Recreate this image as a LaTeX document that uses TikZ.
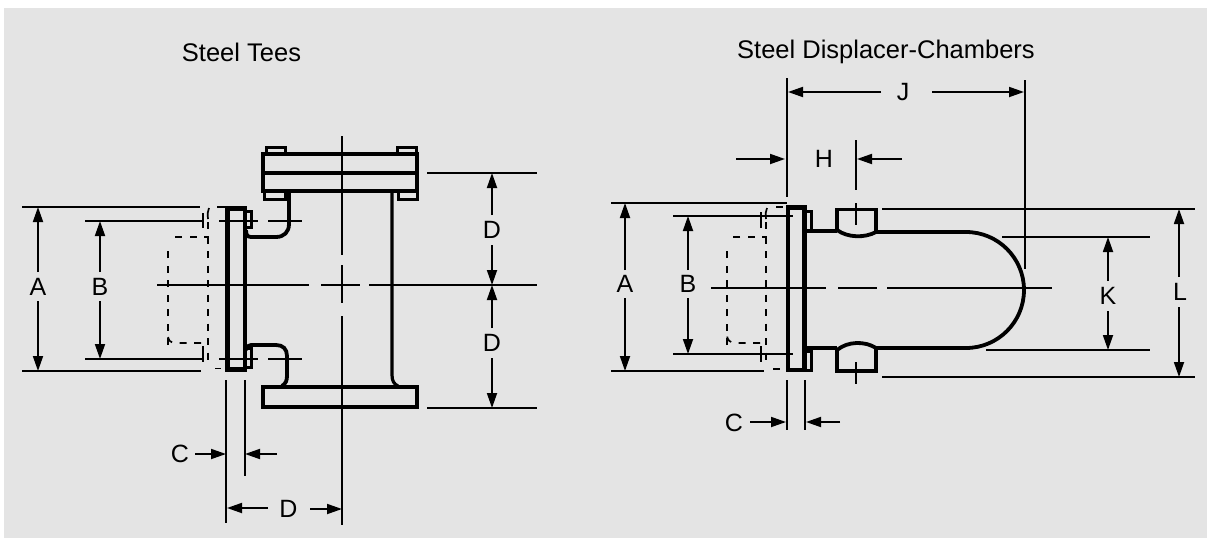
\documentclass[tikz,border=0pt]{standalone}
\usepackage{fontspec}
\setmainfont{Liberation Sans}
\usetikzlibrary{arrows.meta}
\definecolor{bggrey}{HTML}{E4E4E4}
\tikzset{
  thick line/.style={line width=4.2pt,line join=miter,black},
  pipe line/.style={line width=3.8pt,black},
  bolt line/.style={line width=3pt,black},
  thin line/.style={line width=1.8pt,black},
  dim/.style={line width=1.8pt,black,-{Triangle[length=15pt,width=10pt]}},
  ghost/.style={line width=1.7pt,black,dash pattern=on 7pt off 7.5pt},
  lbl/.style={font=\fontsize{25}{28}\selectfont,inner sep=0pt,text=black},
  title/.style={font=\fontsize{25.5}{28}\selectfont,inner sep=0pt,text=black}
}
\begin{document}
\begin{tikzpicture}[x=1pt,y=-1pt]
\useasboundingbox (0,0) rectangle (1207,538);
\fill[white] (0,0) rectangle (1207,538);
\fill[bggrey] (4,8) rectangle (1207,538);

% titles
\node[title] (t1) at (241.5,52) {Steel Tees};
\node[title] (t2) at (886,52) {Steel Displacer-Chambers};

%%%%%%% LEFT: TEE %%%%%%%
% ghost flange
\draw[ghost] (208,222) -- (208,365);
\draw[line width=1.7pt] (208,219) .. controls (207.5,214) and (207.5,211) .. (209,208);
\draw[line width=1.7pt] (217,207) -- (226,207);
\draw[line width=1.7pt] (215,368.5) -- (221,368.5);
\draw[ghost] (168,345) -- (168,250) ;
\draw[ghost] (208,240) -- (208,237) -- (172,237);
\draw[ghost] (201,343) -- (176,343) .. controls (170,343) and (168,340) .. (168,335);

% flanges of the tee
\draw[thick line] (263,154) rectangle (417,191);
\draw[thick line] (263,173) -- (417,173);
\draw[thick line] (263,387) rectangle (417,407);
\draw[thick line] (227.5,208.5) rectangle (245,369.5);
% bolts
\draw[bolt line] (266.5,152) -- (266.5,147) -- (285.5,147) -- (285.5,152);
\draw[bolt line] (397.5,152) -- (397.5,147) -- (416.5,147) -- (416.5,152);
\draw[bolt line] (264,191) -- (264,199) -- (285,199) -- (285,191);
\draw[bolt line] (398,191) -- (398,199) -- (417,199) -- (417,191);
\draw[bolt line] (245,211.5) -- (251,211.5) -- (251,227) -- (245,227);
\draw[bolt line] (245,348) -- (251,348) -- (251,367) -- (245,367);
% pipes
\draw[pipe line] (289,193) -- (289,224) .. controls (289,232) and (284,237) .. (276,237) -- (251,237) .. controls (247,237) and (246,234) .. (246,230);
\draw[pipe line] (246,350) .. controls (246,347) and (248,345) .. (251,345) -- (276,345) .. controls (283,345) and (287,349) .. (287,356) -- (287,375) .. controls (287,381) and (286,383) .. (282,386);
\draw[line width=3.2pt] (392,193) -- (392,375) .. controls (392,381) and (394,384) .. (398,386);

% centre lines
\draw[thin line] (342,136) -- (342,255);
\draw[thin line] (342,265) -- (342,303);
\draw[thin line] (342,316) -- (342,525);
\draw[thin line] (157,285) -- (309,285);
\draw[thin line] (321,285) -- (360,285);
\draw[thin line] (369,285) -- (537,285);

% extension lines
\draw[thin line] (22,207) -- (200,207);
\draw[thin line] (22,371) -- (201,371);
\draw[thin line] (85,221) -- (204,221);
\draw[thin line] (219,221) -- (258,221);
\draw[thin line] (268,221) -- (302,221);
\draw[thin line] (85,359) -- (204,359);
\draw[thin line] (219,359) -- (258,359);
\draw[thin line] (268,359) -- (302,359);
\draw[thin line] (203,213) -- (203,228);
\draw[thin line] (203,346) -- (203,362);
\draw[thin line] (427,173) -- (537,173);
\draw[thin line] (427,408) -- (537,408);
\draw[thin line] (226,380) -- (226,523);
\draw[thin line] (245,380) -- (245,476);

% dimensions
\node[lbl] (a1) at (38,287) {A};
\draw[dim] (38,272) -- (38,207);
\draw[dim] (38,301) -- (38,371);
\node[lbl] (b1) at (100,287) {B};
\draw[dim] (100,272) -- (100,221);
\draw[dim] (100,301) -- (100,359);
\node[lbl] (d1) at (492,230) {D};
\draw[dim] (492,215) -- (492,173);
\draw[dim] (492,245) -- (492,285);
\node[lbl] (d2) at (492,343) {D};
\draw[dim] (492,328) -- (492,285);
\draw[dim] (492,358) -- (492,408);
\node[lbl] (c1) at (180,454) {C};
\draw[dim] (195,454) -- (226,454);
\draw[dim] (277,454) -- (245,454);
\node[lbl] (d3) at (288.5,509) {D};
\draw[dim] (268,508) -- (227,508);
\draw[dim] (310,509) -- (342,509);

%%%%%%% RIGHT: DISPLACER CHAMBER %%%%%%%
% ghost flange
\draw[ghost] (766,222) -- (766,365);
\draw[line width=1.7pt] (766,219) .. controls (765.5,214) and (765.5,211) .. (767,208);
\draw[line width=1.7pt] (776,207) -- (783,207);
\draw[line width=1.7pt] (773,369) -- (780,369);
\draw[ghost] (727,345) -- (727,250);
\draw[ghost] (766,240) -- (766,237) -- (731,237);
\draw[ghost] (760,343) -- (736,343) .. controls (730,343) and (727,340) .. (727,335);

% flange
\draw[thick line] (788,207.5) rectangle (804.5,370);
\draw[bolt line] (805,211.5) -- (811,211.5) -- (811,231);
\draw[bolt line] (805,351) -- (811,351) -- (811,370.5) -- (805,370.5);

% bosses
\draw[pipe line] (837,232) -- (837,209.5) -- (876,209.5) -- (876,232);
\draw[pipe line] (837,230) .. controls (848,238) and (865,238) .. (876,232);
\draw[pipe line] (837,348) -- (837,371) -- (876,371) -- (876,348);
\draw[pipe line] (837,350) .. controls (848,341) and (865,341) .. (876,348);
% pipe body
\draw[pipe line] (805,231) -- (837,231);
\draw[pipe line] (805,348) -- (837,348);
\draw[pipe line] (876,232) -- (966,232) .. controls (998,232) and (1024,258) .. (1024,290) .. controls (1024,322) and (998,348) .. (966,348) -- (876,348);

% centre lines
\draw[thin line] (711,288) -- (826,288);
\draw[thin line] (838,288) -- (877,288);
\draw[thin line] (887,288) -- (1052,288);
\draw[thin line] (856,140) -- (856,190);
\draw[thin line] (856,203) -- (856,225);
\draw[thin line] (856,362) -- (856,384);

% extension lines
\draw[thin line] (611,203) -- (787,203);
\draw[thin line] (611,371) -- (764,371);
\draw[thin line] (673,216) -- (793,216);
\draw[thin line] (673,354) -- (793,354);
\draw[thin line] (761,212) -- (761,228);
\draw[thin line] (761,346) -- (761,362);
\draw[thin line] (787,78) -- (787,197);
\draw[thin line] (1025,80) -- (1025,269);
\draw[thin line] (882,209) -- (1195,209);
\draw[thin line] (882,377) -- (1195,377);
\draw[thin line] (1002,237) -- (1150,237);
\draw[thin line] (986,350) -- (1150,350);
\draw[thin line] (787,380) -- (787,430);
\draw[thin line] (805,380) -- (805,430);

% dimensions
\node[lbl] (a2) at (625,284) {A};
\draw[dim] (625,270) -- (625,203);
\draw[dim] (625,298) -- (625,371);
\node[lbl] (b2) at (688,284) {B};
\draw[dim] (688,270) -- (688,216);
\draw[dim] (688,298) -- (688,354);
\node[lbl] (c2) at (734,423) {C};
\draw[dim] (750,422) -- (786,422);
\draw[dim] (840,422) -- (806,422);
\node[lbl] (h) at (824,159) {H};
\draw[dim] (736,159) -- (785,159);
\draw[dim] (902,159) -- (857,159);
\node[lbl] (j) at (903,92) {J};
\draw[dim] (881,92) -- (788,92);
\draw[dim] (932,92) -- (1024,92);
\node[lbl] (k) at (1108,296) {K};
\draw[dim] (1108,281) -- (1108,237);
\draw[dim] (1108,311) -- (1108,350);
\node[lbl] (l) at (1180,292) {L};
\draw[dim] (1179,277) -- (1179,209);
\draw[dim] (1179,307) -- (1179,377);
\end{tikzpicture}
\end{document}
